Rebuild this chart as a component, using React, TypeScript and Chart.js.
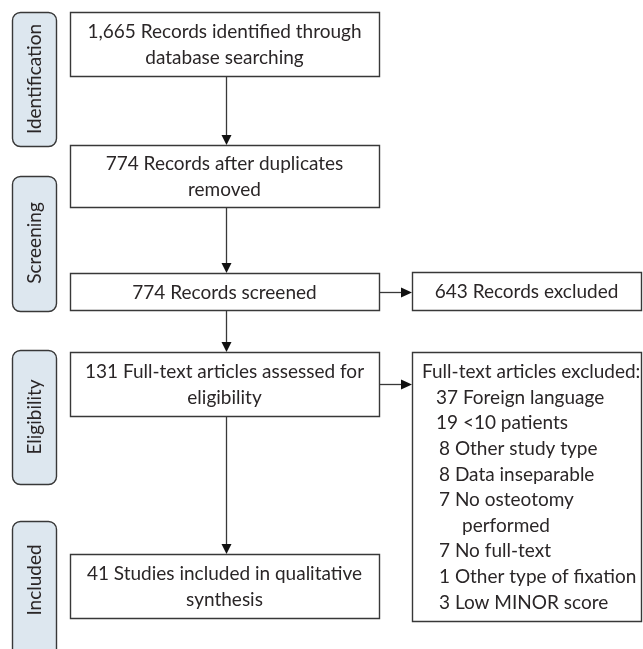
import React, { useEffect, useRef } from "react";
import { Chart, registerables } from "chart.js";
Chart.register(...registerables);

// ---- data ----
const stages = ["Identification", "Screening", "Eligibility", "Included"];
const identifiedCount = 1665;
const afterDuplicatesCount = 774;
const screenedCount = 774;
const recordsExcludedCount = 643;
const fullTextCount = 131;
const includedCount = 41;
const exclusionCounts = [37, 19, 8, 8, 7, 7, 1, 3];
const exclusionReasons = [
  "Foreign language",
  "<10 patients",
  "Other study type",
  "Data inseparable",
  "No osteotomy|performed",
  "No full-text",
  "Other type of fixation",
  "Low MINOR score",
];

const fmt = (n: number) => n.toLocaleString("en-US");

const mainTexts = [
  [`${fmt(identifiedCount)} Records identified through`, "database searching"],
  [`${afterDuplicatesCount} Records after duplicates`, "removed"],
  [`${screenedCount} Records screened`],
  [`${fullTextCount} Full-text articles assessed for`, "eligibility"],
  [`${includedCount} Studies included in qualitative`, "synthesis"],
];

// ---- layout (data units of the hidden linear scales) ----
const W = 643;
const H = 649;
const stageX = [12, 56];
const stageY = [[12, 146], [176, 311], [350, 484], [521, 700]];
const stageTextY = [79, 243, 417, 580];
const mainX = [70, 379];
const mainY = [[12, 76], [145, 207], [273, 310], [352, 416], [554, 618]];
const sideX = [412, 641];
const side1Y = [272, 310];
const side2Y = [352, 621];

const FONT = "Lato, 'Noto Sans', sans-serif";
const TEXT = "#2a2627";
const LINE = "#383838";

const flowPlugin = {
  id: "flow",
  afterDraw(chart: any) {
    const ctx: CanvasRenderingContext2D = chart.ctx;
    const xs = chart.scales.x;
    const ys = chart.scales.y;
    const px = (v: number) => xs.getPixelForValue(v);
    const py = (v: number) => ys.getPixelForValue(v);
    ctx.save();
    ctx.fillStyle = "#ffffff";
    ctx.fillRect(0, 0, chart.width, chart.height);

    const rect = (x0: number, y0: number, x1: number, y1: number) => {
      ctx.lineWidth = 1.4;
      ctx.strokeStyle = LINE;
      ctx.fillStyle = "#ffffff";
      ctx.beginPath();
      ctx.rect(Math.round(px(x0)) + 0.5, Math.round(py(y0)) + 0.5, Math.round(px(x1) - px(x0)), Math.round(py(y1) - py(y0)));
      ctx.fill();
      ctx.stroke();
    };
    const arrowDown = (x: number, y0: number, y1: number) => {
      const X = Math.round(px(x)) + 0.5;
      ctx.strokeStyle = LINE;
      ctx.fillStyle = "#111";
      ctx.lineWidth = 1.3;
      ctx.beginPath();
      ctx.moveTo(X, py(y0));
      ctx.lineTo(X, py(y1) - 9);
      ctx.stroke();
      ctx.beginPath();
      ctx.moveTo(X - 5, py(y1) - 10);
      ctx.lineTo(X + 5, py(y1) - 10);
      ctx.lineTo(X, py(y1));
      ctx.closePath();
      ctx.fill();
    };
    const arrowRight = (y: number, x0: number, x1: number) => {
      const Y = Math.round(py(y)) + 0.5;
      ctx.strokeStyle = LINE;
      ctx.fillStyle = "#111";
      ctx.lineWidth = 1.3;
      ctx.beginPath();
      ctx.moveTo(px(x0), Y);
      ctx.lineTo(px(x1) - 9, Y);
      ctx.stroke();
      ctx.beginPath();
      ctx.moveTo(px(x1) - 11, Y - 5);
      ctx.lineTo(px(x1) - 11, Y + 5);
      ctx.lineTo(px(x1), Y);
      ctx.closePath();
      ctx.fill();
    };

    // stage labels
    stages.forEach((s, i) => {
      const [y0, y1] = stageY[i];
      ctx.lineWidth = 1.4;
      ctx.strokeStyle = LINE;
      ctx.fillStyle = "#dde7ef";
      ctx.beginPath();
      ctx.roundRect(px(stageX[0]) + 0.5, py(y0) + 0.5, px(stageX[1]) - px(stageX[0]), py(y1) - py(y0), 8);
      ctx.fill();
      ctx.stroke();
      ctx.save();
      ctx.translate(px((stageX[0] + stageX[1]) / 2) + 1, py(stageTextY[i]));
      ctx.rotate(-Math.PI / 2);
      ctx.fillStyle = TEXT;
      ctx.font = `19px ${FONT}`;
      ctx.textAlign = "center";
      ctx.textBaseline = "middle";
      ctx.fillText(s, 0, 0);
      ctx.restore();
    });

    // arrows
    const cx = (mainX[0] + mainX[1]) / 2 + 1.5;
    for (let i = 0; i < mainY.length - 1; i++) arrowDown(cx, mainY[i][1], mainY[i + 1][0]);
    arrowRight((mainY[2][0] + mainY[2][1]) / 2, mainX[1], sideX[0]);
    arrowRight((mainY[3][0] + mainY[3][1]) / 2, mainX[1], sideX[0]);

    // main boxes
    ctx.font = `19px ${FONT}`;
    mainTexts.forEach((lines, i) => {
      const [y0, y1] = mainY[i];
      rect(mainX[0], y0, mainX[1], y1);
      ctx.fillStyle = TEXT;
      ctx.textAlign = "center";
      ctx.textBaseline = "middle";
      const mid = (y0 + y1) / 2;
      lines.forEach((t, j) => {
        const yy = mid + (j - (lines.length - 1) / 2) * 26;
        ctx.fillText(t, px((mainX[0] + mainX[1]) / 2), py(yy) + 1);
      });
    });

    // side boxes
    rect(sideX[0], side1Y[0], sideX[1], side1Y[1]);
    ctx.fillStyle = TEXT;
    ctx.textAlign = "center";
    ctx.textBaseline = "middle";
    ctx.fillText(`${recordsExcludedCount} Records excluded`, px((sideX[0] + sideX[1]) / 2), py((side1Y[0] + side1Y[1]) / 2) + 1);

    rect(sideX[0], side2Y[0], sideX[1], side2Y[1]);
    ctx.fillStyle = TEXT;
    ctx.textAlign = "left";
    ctx.textBaseline = "middle";
    const lh = 25.6;
    let y = 372;
    ctx.fillText("Full-text articles excluded:", px(sideX[0] + 10), py(y));
    exclusionCounts.forEach((c, i) => {
      const parts = exclusionReasons[i].split("|");
      y += lh;
      const xOff = c >= 10 ? 24 : 27;
      ctx.fillText(`${c} ${parts[0]}`, px(sideX[0] + xOff), py(y));
      for (let k = 1; k < parts.length; k++) {
        y += lh;
        ctx.fillText(parts[k], px(sideX[0] + 50), py(y));
      }
    });
    ctx.restore();
  },
};

export default function App() {
  const ref = useRef<HTMLCanvasElement>(null);
  useEffect(() => {
    if (!ref.current) return;
    const chart = new Chart(ref.current, {
      type: "scatter",
      data: { datasets: [{ data: [], pointRadius: 0 }] },
      options: {
        animation: false,
        responsive: false,
        devicePixelRatio: 1,
        layout: { padding: 0 },
        plugins: { legend: { display: false }, tooltip: { enabled: false } },
        scales: {
          x: { type: "linear", min: 0, max: W, display: false },
          y: { type: "linear", min: 0, max: H, reverse: true, display: false },
        },
      },
      plugins: [flowPlugin],
    });
    return () => chart.destroy();
  }, []);
  return (
    <div style={{ position: "absolute", left: 0, top: 0, width: W, height: H, background: "#fff" }}>
      <canvas ref={ref} width={W} height={H} style={{ width: W, height: H, display: "block" }} />
    </div>
  );
}
